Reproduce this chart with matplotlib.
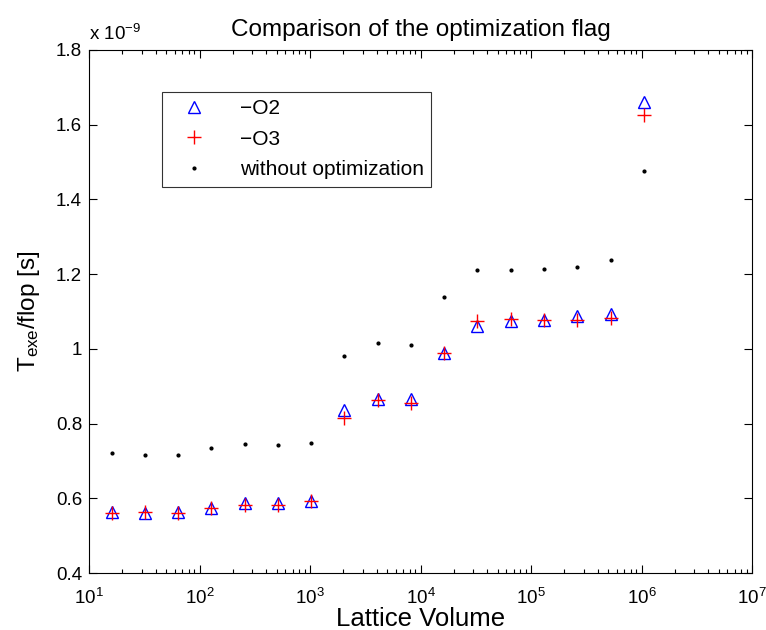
import math
import matplotlib
matplotlib.use("Agg")
import matplotlib.pyplot as plt
from matplotlib.ticker import LogLocator, FixedLocator, FuncFormatter

plt.rcParams['font.family'] = ['Liberation Sans', 'DejaVu Sans']
plt.rcParams['mathtext.fontset'] = 'custom'
plt.rcParams['mathtext.rm'] = 'Liberation Sans'
plt.rcParams['mathtext.it'] = 'Liberation Sans:italic'

volume = [16, 32, 64, 128, 256, 512, 1024, 2048, 4096, 8192, 16384,
          32768, 65536, 131072, 262144, 524288, 1048576]
# values in units of 1e-9 s
o2 = [0.564, 0.561, 0.564, 0.575, 0.587, 0.587, 0.594, 0.837, 0.866, 0.866,
      0.988, 1.060, 1.074, 1.078, 1.089, 1.092, 1.661]
o3 = [0.560, 0.562, 0.560, 0.573, 0.581, 0.581, 0.594, 0.814, 0.863, 0.854,
      0.988, 1.074, 1.079, 1.077, 1.077, 1.082, 1.627]
noopt = [0.722, 0.715, 0.717, 0.735, 0.746, 0.743, 0.749, 0.981, 1.016, 1.009,
         1.139, 1.212, 1.212, 1.215, 1.219, 1.237, 1.476]
yticks = [0.4, 0.6, 0.8, 1.0, 1.2, 1.4, 1.6, 1.8]
xticks = [1e1, 1e2, 1e3, 1e4, 1e5, 1e6, 1e7]

fig = plt.figure(figsize=(7.66, 6.30), dpi=100)
ax = fig.add_axes([89/766, 1-573/630, (752-89)/766, (573-50)/630])

ax.plot(volume, o2, linestyle='none', marker='^', markersize=9,
        markerfacecolor='none', markeredgecolor='#0000ff', markeredgewidth=1.0, label='\u2212O2')
ax.plot(volume, o3, linestyle='none', marker='+', markersize=10,
        color='#ff0000', markeredgewidth=1.0, label='\u2212O3')
ax.plot(volume, noopt, linestyle='none', marker='.', markersize=4,
        color='black', label='without optimization')

ax.set_xscale('log')
ax.set_xlim(10, 1e7)
ax.set_ylim(0.4, 1.8)
ax.yaxis.set_major_locator(FixedLocator(yticks))
ax.yaxis.set_major_formatter(FuncFormatter(lambda v, p: ('%g' % round(v, 1))))
ax.xaxis.set_major_locator(FixedLocator(xticks))
ax.xaxis.set_minor_locator(LogLocator(base=10, subs=range(2, 10), numticks=20))
ax.xaxis.set_minor_formatter(FuncFormatter(lambda v, p: ''))
ax.xaxis.set_major_formatter(FuncFormatter(lambda v, p: r'10$^{\mathdefault{%d}}$' % round(math.log10(v))))

ax.tick_params(which='both', direction='in', top=True, right=True, labelsize=13.5, width=0.8)
ax.tick_params(which='major', length=6)
ax.tick_params(which='minor', length=3)
ax.tick_params(axis='x', pad=11)
ax.tick_params(axis='y', pad=5)
for s in ax.spines.values():
    s.set_linewidth(0.8)

ax.set_title('Comparison of the optimization flag', fontsize=17.5, pad=10)
ax.set_xlabel('Lattice Volume', fontsize=18.5, labelpad=-1)
ax.set_ylabel(r'T$_{\mathrm{exe}}$/flop [s]', fontsize=17.5, labelpad=10)
ax.text(0.0, 1.012, r'x 10$^{-9}$', transform=ax.transAxes, fontsize=13.5,
        ha='left', va='bottom')

leg = ax.legend(loc='upper left', bbox_to_anchor=((162-89)/663, 1-(92-50)/523),
                fontsize=15, frameon=True, fancybox=False, edgecolor='black',
                borderpad=0.35, labelspacing=0.55, handlelength=2.4, handletextpad=1.0,
                borderaxespad=0)
leg.get_frame().set_linewidth(0.8)

fig.savefig('out.png', dpi=100)
